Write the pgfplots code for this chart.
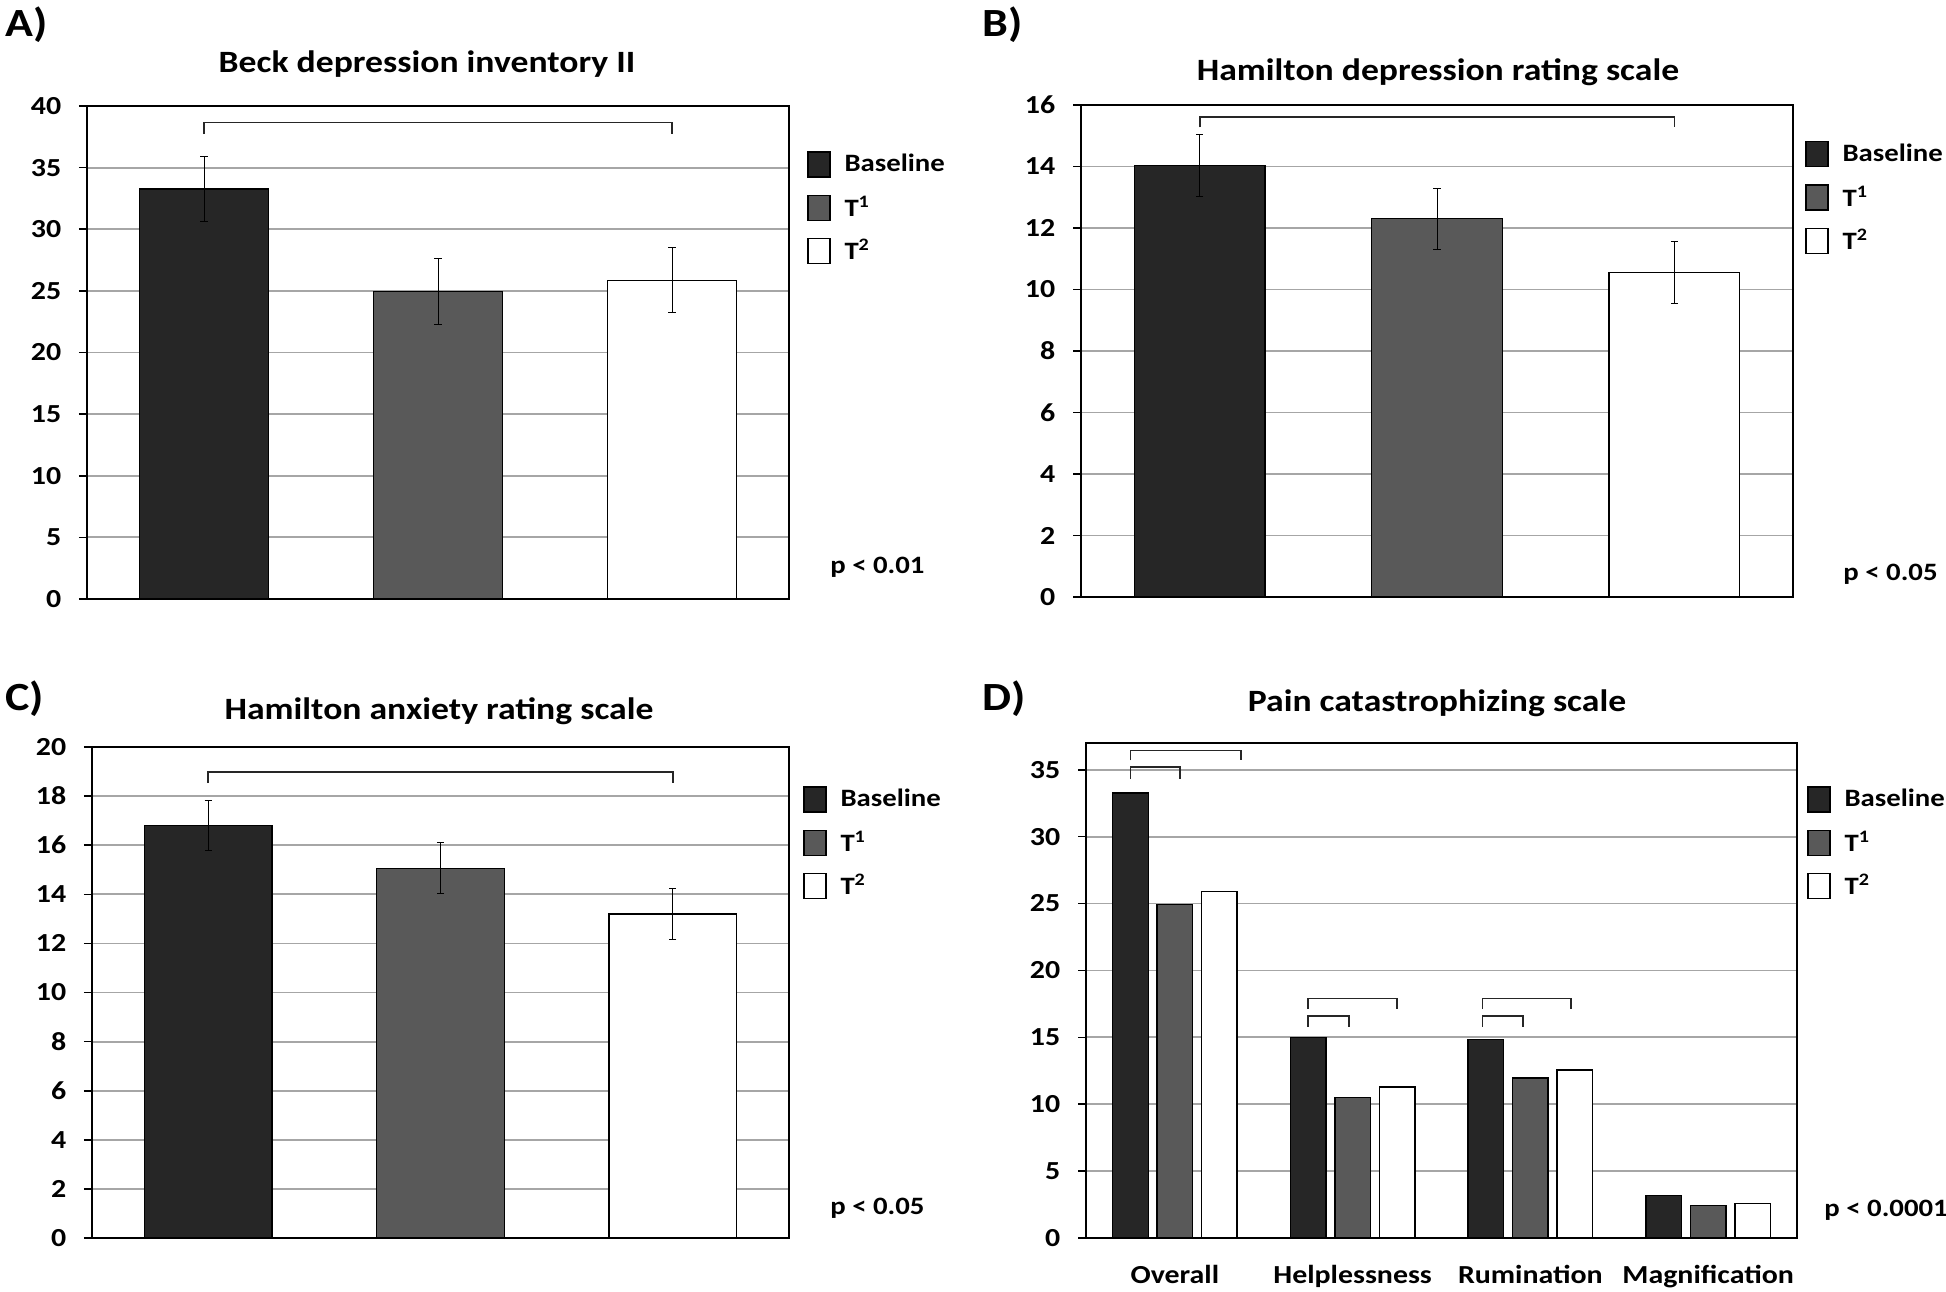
\documentclass[border=0pt]{standalone}
\usepackage{fontspec}
\setmainfont{Carlito}[FakeStretch=1.15]
\usepackage{pgfplots}
\pgfplotsset{compat=1.18}

\definecolor{cBase}{HTML}{262626}
\definecolor{cTone}{HTML}{595959}
\definecolor{cGrid}{HTML}{A6A6A6}

\newcommand{\tickfont}{\fontsize{13}{14}\selectfont\bfseries}
\newcommand{\legfont}{\fontsize{12.5}{14}\selectfont\bfseries}

\pgfplotsset{
  panel/.style={
    scale only axis, anchor=south west,
    ybar, ymin=0,
    axis line style={black, line width=0.9pt},
    ymajorgrids, grid style={cGrid, line width=0.9pt},
    tick align=outside, ytick pos=left, xtick pos=bottom,
    major tick length=4pt, tick style={black, line width=0.8pt},
    /pgf/number format/assume math mode=true,
    yticklabel style={font=\tickfont, inner sep=0pt, xshift=-8.7pt},
    legend style={draw=none, fill=none, at={(1,1)}, anchor=north west,
      font=\legfont, row sep=8.5pt, inner sep=0pt,
      nodes={inner sep=0pt}},
    legend cell align=left,
    legend image code/.code={\draw[#1, line width=0.6pt] (0pt,-6.25pt) rectangle (11pt,6.25pt);
      \path[draw=none, fill=none] (0pt,0pt) -- (18.25pt,0pt);},
  },
  three/.style={panel, xmin=-0.5, xmax=2.5, xtick=\empty, bar width=0.55},
  barA/.style={fill=cBase, draw=black, line width=0.7pt, bar shift=0pt, errs},
  barB/.style={fill=cTone, draw=black, line width=0.7pt, bar shift=0pt, errs},
  barC/.style={fill=white, draw=black, line width=0.7pt, bar shift=0pt, errs},
  errs/.style={error bars/.cd, y dir=both, y explicit,
    error bar style={black, line width=0.5pt},
    error mark options={black, line width=0.5pt, mark size=1.8pt, rotate=90}},
}
\tikzset{bracket/.style={black!85, line width=0.85pt},
  plab/.style={anchor=west, inner sep=0pt, font=\fontsize{20}{22}\selectfont\bfseries},
  ttl/.style={font=\fontsize{15.5}{18}\selectfont\bfseries},
  pval/.style={anchor=west, inner sep=0pt, font=\legfont}}

\begin{document}
\begin{tikzpicture}[x=1pt,y=1pt]
\path[use as bounding box] (0,0) rectangle (973,645.5);

% panel labels and titles
\node[plab] at (2.5,633) {A)};
\node[plab] at (491,633) {B)};
\node[plab] at (2.5,296) {C)};
\node[plab] at (491,296) {D)};
\node[ttl] at (213.5,613.5) {Beck depression inventory II};
\node[ttl] at (719,609.3) {Hamilton depression rating scale};
\node[ttl] at (219.5,290) {Hamilton anxiety rating scale};
\node[ttl] at (718.5,294) {Pain catastrophizing scale};

% A
\begin{axis}[three, at={(43.5pt,346pt)}, width=351pt, height=246.5pt,
  ymax=40, ytick={0,5,...,40},
  legend style={xshift=9pt, yshift=-22.5pt}]
\addplot[barA] coordinates {(0,33.26) +- (0,2.63)};
\addlegendentry{Baseline}
\addplot[barB] coordinates {(1,24.94) +- (0,2.65)};
\addlegendentry{T\textsuperscript{1}}
\addplot[barC] coordinates {(2,25.85) +- (0,2.63)};
\addlegendentry{T\textsuperscript{2}}
\draw[bracket] (axis cs:0,37.72) -- (axis cs:0,38.66) -- (axis cs:2,38.66) -- (axis cs:2,37.72);
\end{axis}
\node[pval] at (415,361.75) {p < 0.01};

% B
\begin{axis}[three, at={(540.5pt,347pt)}, width=356pt, height=246pt,
  ymax=16, ytick={0,2,...,16},
  legend style={xshift=6pt, yshift=-17.9pt}]
\addplot[barA] coordinates {(0,14.04) +- (0,1.01)};
\addlegendentry{Baseline}
\addplot[barB] coordinates {(1,12.30) +- (0,1.0)};
\addlegendentry{T\textsuperscript{1}}
\addplot[barC] coordinates {(2,10.56) +- (0,1.0)};
\addlegendentry{T\textsuperscript{2}}
\draw[bracket] (axis cs:0,15.27) -- (axis cs:0,15.61) -- (axis cs:2,15.61) -- (axis cs:2,15.27);
\end{axis}
\node[pval] at (921.5,358.6) {p < 0.05};

% C
\begin{axis}[three, at={(46pt,26.5pt)}, width=348.5pt, height=245.5pt,
  ymax=20, ytick={0,2,...,20},
  legend style={xshift=7pt, yshift=-19.5pt}]
\addplot[barA] coordinates {(0,16.80) +- (0,1.02)};
\addlegendentry{Baseline}
\addplot[barB] coordinates {(1,15.06) +- (0,1.04)};
\addlegendentry{T\textsuperscript{1}}
\addplot[barC] coordinates {(2,13.19) +- (0,1.05)};
\addlegendentry{T\textsuperscript{2}}
\draw[bracket] (axis cs:0,18.53) -- (axis cs:0,18.98) -- (axis cs:2,18.98) -- (axis cs:2,18.53);
\end{axis}
\node[pval] at (415,41.5) {p < 0.05};

% D
\begin{axis}[panel, at={(543pt,26.5pt)}, width=355.5pt, height=247.5pt,
  xmin=-0.5, xmax=3.5, ymax=37, ytick={0,5,...,35},
  bar width=0.2,
  xtick={0,1,2,3}, xticklabels={Overall,Helplessness,Rumination,Magnification},
  major x tick style={draw=none},
  xticklabel style={font=\tickfont, anchor=base, yshift=-18.5pt},
  legend style={xshift=5pt, yshift=-21.5pt}]
\addplot[fill=cBase, draw=black, line width=0.7pt, bar shift=-0.25]
  coordinates {(0,33.26) (1,14.97) (2,14.85) (3,3.19)};
\addlegendentry{Baseline}
\addplot[fill=cTone, draw=black, line width=0.7pt, bar shift=0]
  coordinates {(0,24.95) (1,10.51) (2,11.97) (3,2.45)};
\addlegendentry{T\textsuperscript{1}}
\addplot[fill=white, draw=black, line width=0.7pt, bar shift=0.25]
  coordinates {(0,25.91) (1,11.28) (2,12.55) (3,2.60)};
\addlegendentry{T\textsuperscript{2}}
\draw[bracket] (axis cs:-0.25,35.7) -- (axis cs:-0.25,36.45) -- (axis cs:0.37,36.45) -- (axis cs:0.37,35.7);
\draw[bracket] (axis cs:-0.25,34.3) -- (axis cs:-0.25,35.2) -- (axis cs:0.03,35.2) -- (axis cs:0.03,34.3);
\draw[bracket] (axis cs:0.75,17.1) -- (axis cs:0.75,17.9) -- (axis cs:1.25,17.9) -- (axis cs:1.25,17.1);
\draw[bracket] (axis cs:0.75,15.8) -- (axis cs:0.75,16.6) -- (axis cs:0.98,16.6) -- (axis cs:0.98,15.8);
\draw[bracket] (axis cs:1.73,17.1) -- (axis cs:1.73,17.9) -- (axis cs:2.23,17.9) -- (axis cs:2.23,17.1);
\draw[bracket] (axis cs:1.73,15.8) -- (axis cs:1.73,16.6) -- (axis cs:1.96,16.6) -- (axis cs:1.96,15.8);
\end{axis}
\node[pval] at (912,40.5) {p < 0.0001};

\end{tikzpicture}
\end{document}
